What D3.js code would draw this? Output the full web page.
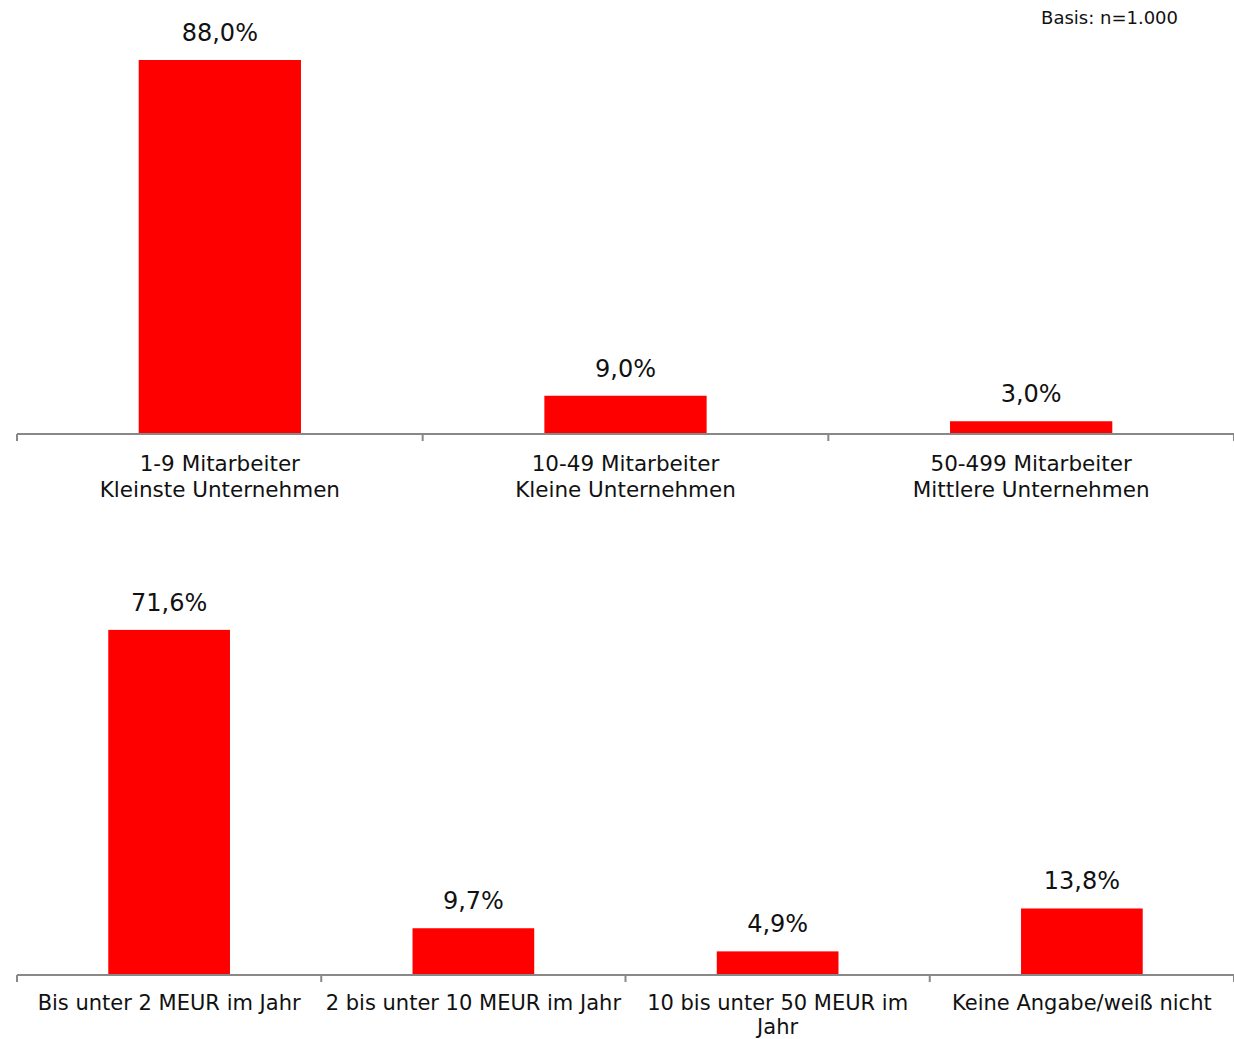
<!DOCTYPE html>
<html><head><meta charset="utf-8">
<script src="https://cdn.jsdelivr.net/npm/d3@7"></script>
<style>body{margin:0;background:#fff}svg{display:block}text{font-family:"DejaVu Sans",sans-serif;fill:#111}</style>
</head><body>
<svg id="c" width="1234" height="1039"></svg>
<script>
const topCategories = [["1-9 Mitarbeiter","Kleinste Unternehmen"],["10-49 Mitarbeiter","Kleine Unternehmen"],["50-499 Mitarbeiter","Mittlere Unternehmen"]];
const topValues = [88.0, 9.0, 3.0];
const bottomCategories = [["Bis unter 2 MEUR im Jahr"],["2 bis unter 10 MEUR im Jahr"],["10 bis unter 50 MEUR im","Jahr"],["Keine Angabe/weiß nicht"]];
const bottomValues = [71.6, 9.7, 4.9, 13.8];
const basisLabel = "Basis: n=1.000";

const svg = d3.select("#c");
const fmt = v => v.toFixed(1).replace(".", ",") + "%";

function panel(cats, vals, axisY, pxPerPct, labelOff, lineH, fs) {
  const x = d3.scaleBand().domain(d3.range(cats.length)).range([17, 1234]).paddingInner(0).paddingOuter(0);
  const maxV = d3.max(vals);
  const y = d3.scaleLinear().domain([0, maxV]).range([axisY, axisY - maxV * pxPerPct]);
  const g = svg.append("g");
  const bw = x.bandwidth() * 0.4;
  g.selectAll("rect").data(vals).join("rect")
    .attr("x", (d, i) => x(i) + (x.bandwidth() - bw) / 2)
    .attr("width", bw)
    .attr("y", d => y(d))
    .attr("height", d => axisY - y(d))
    .attr("fill", "#ff0000");
  g.selectAll("text.val").data(vals).join("text").attr("class", "val")
    .attr("x", (d, i) => x(i) + x.bandwidth() / 2)
    .attr("y", d => y(d) - 19)
    .attr("text-anchor", "middle")
    .attr("font-size", 24)
    .text(fmt);
  g.append("line").attr("x1", 17).attr("x2", 1234).attr("y1", axisY).attr("y2", axisY)
    .attr("stroke", "#888").attr("stroke-width", 2);
  const ticks = d3.range(cats.length + 1).map(i => i < cats.length ? x(i) : 1234);
  g.selectAll("line.tk").data(ticks).join("line").attr("class", "tk")
    .attr("x1", d => d).attr("x2", d => d).attr("y1", axisY).attr("y2", axisY + 7)
    .attr("stroke", "#888").attr("stroke-width", 2);
  cats.forEach((lines, i) => {
    const cx = x(i) + x.bandwidth() / 2;
    const t = g.append("text").attr("text-anchor", "middle").attr("font-size", fs)
      .attr("x", cx).attr("y", axisY + labelOff);
    lines.forEach((l, j) => t.append("tspan").attr("x", cx).attr("dy", j ? lineH : 0).text(l));
  });
}

panel(topCategories, topValues, 434, 4.25, 37, 26, 21.5);
panel(bottomCategories, bottomValues, 975, 4.82, 35, 24, 21);

svg.append("text").attr("x", 1178).attr("y", 24).attr("text-anchor", "end").attr("font-size", 18).text(basisLabel);
</script>
</body></html>
